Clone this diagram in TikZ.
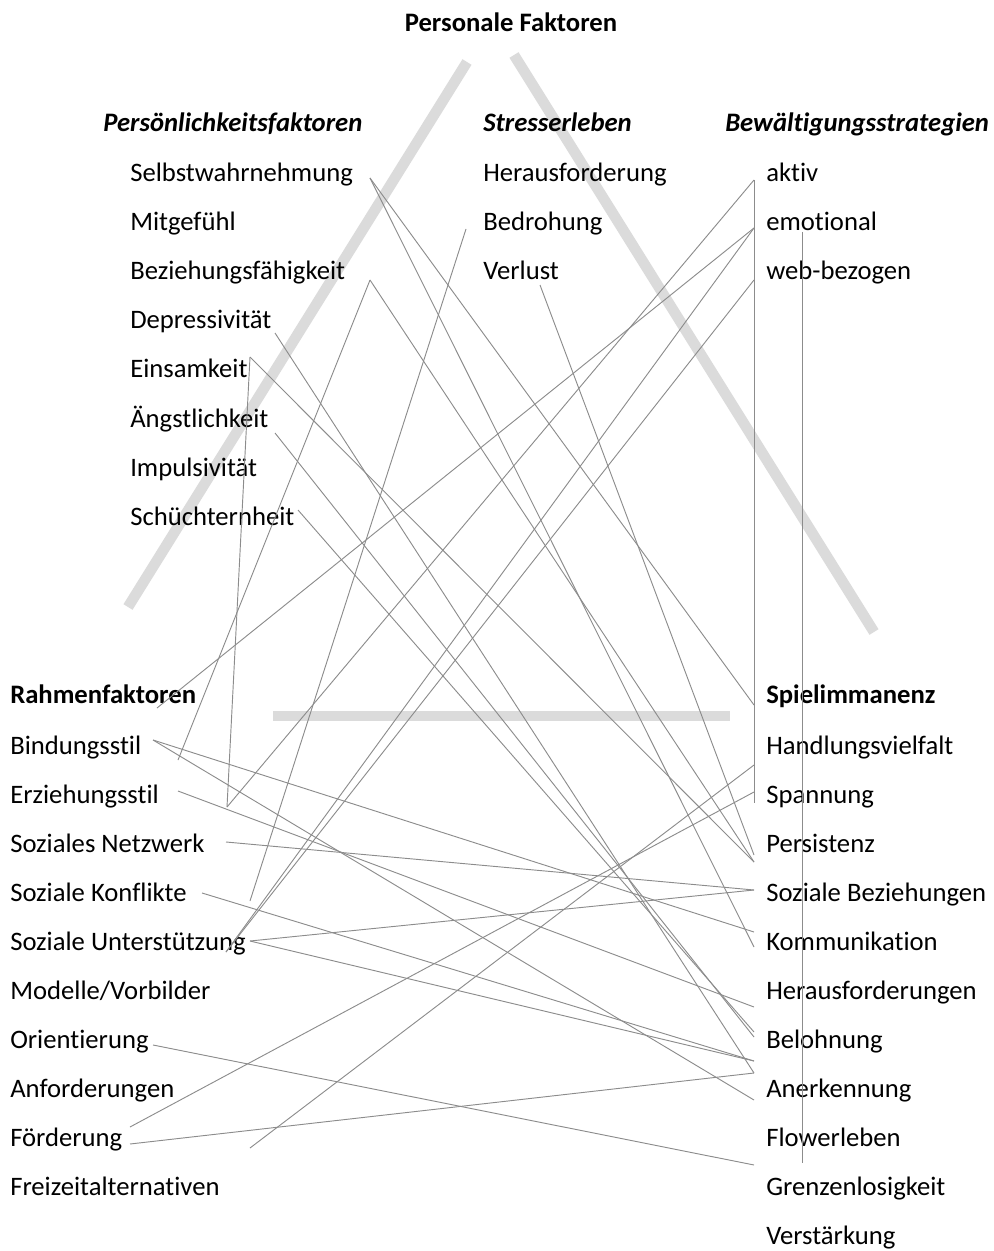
\documentclass[tikz,border=0pt]{standalone}
\usepackage{fontspec}
\setmainfont{Carlito}[Ligatures=NoCommon]

\tikzset{
  lbl/.style={anchor=base west, inner sep=0pt, font=\fontsize{20}{24}\selectfont},
  hd/.style={lbl, font=\fontsize{20}{24}\selectfont\bfseries},
  hdi/.style={lbl, font=\fontsize{20}{24}\selectfont\bfseries\itshape},
  bar/.style={line width=8pt, black!14},
  link/.style={black!45, line width=0.7pt},
}

\begin{document}
\begin{tikzpicture}[x=0.75pt,y=-0.75pt]
        \useasboundingbox (0,0) rectangle (993,1251);

        % grey frame
        \draw[bar] (467,62) -- (128,607);
        \draw[bar] (514,55) -- (874,632);
        \draw[bar] (273,716) -- (730,716);

        \node[hd, anchor=base] (title) at (511,32) {Personale Faktoren};
        \node[hdi] (pf) at (103,132) {Persönlichkeitsfaktoren};
        \node[hdi] (se) at (483,132) {Stresserleben};
        \node[hdi] (bs) at (725,132) {Bewältigungsstrategien};
        \node[hd]  (rf) at (10,703)  {Rahmenfaktoren};
        \node[hd]  (si) at (766,703) {Spielimmanenz};

        \foreach \t [count=\i] in {Selbstwahrnehmung,Mitgefühl,Beziehungsfähigkeit,
            Depressivität,Einsamkeit,Ängstlichkeit,Impulsivität,Schüchternheit}
          \node[lbl] (p\i) at (130,{182+49*(\i-1)}) {\t};
        \foreach \t [count=\i] in {Herausforderung,Bedrohung,Verlust}
          \node[lbl] (s\i) at (483,{182+49*(\i-1)}) {\t};
        \foreach \t [count=\i] in {aktiv,emotional,web-bezogen}
          \node[lbl] (b\i) at (766,{182+49*(\i-1)}) {\t};
        \foreach \t [count=\i] in {Bindungsstil,Erziehungsstil,Soziales Netzwerk,
            Soziale Konflikte,Soziale Unterstützung,Modelle/Vorbilder,Orientierung,
            Anforderungen,Förderung,Freizeitalternativen}
          \node[lbl] (r\i) at (10,{754+49*(\i-1)}) {\t};
        \foreach \t [count=\i] in {Handlungsvielfalt,Spannung,Persistenz,
            Soziale Beziehungen,Kommunikation,Herausforderungen,Belohnung,
            Anerkennung,Flowerleben,Grenzenlosigkeit,Verstärkung}
          \node[lbl] (g\i) at (766,{754+49*(\i-1)}) {\t};

        % line ends
        \coordinate (selbst)  at (370,178);
        \coordinate (bezieh)  at (370,280);
        \coordinate (depress) at (275,333);
        \coordinate (einsam)  at (250,357);
        \coordinate (angst)   at (275,433);
        \coordinate (schuecht) at (298,510);
        \coordinate (bedroh)  at (466,229);
        \coordinate (verlust) at (540,285);
        \coordinate (aktiv)   at (754,180);
        \coordinate (emo)     at (754,228);
        \coordinate (emov)    at (802,232);
        \coordinate (web)     at (754,280);
        \coordinate (rahmen)  at (157,708);
        \coordinate (bind)    at (153,740);
        \coordinate (bindb)   at (178,760);
        \coordinate (erz)     at (178,791);
        \coordinate (erzb)    at (227,807);
        \coordinate (netz)    at (226,842);
        \coordinate (konf)    at (202,893);
        \coordinate (konfb)   at (250,901);
        \coordinate (unt)     at (250,941);
        \coordinate (untb)    at (226,952);
        \coordinate (orient)  at (153,1045);
        \coordinate (foerd)   at (130,1127);
        \coordinate (foerdb)  at (130,1144);
        \coordinate (frei)    at (250,1148);
        \coordinate (spiel)   at (754,705);
        \coordinate (hand)    at (754,765);
        \coordinate (spann)   at (754,792);
        \coordinate (spannv)  at (754,803);
        \coordinate (persa)   at (754,855);
        \coordinate (persb)   at (754,862);
        \coordinate (sozb)    at (754,890);
        \coordinate (komm)    at (754,932);
        \coordinate (kommb)   at (754,947);
        \coordinate (heraus)  at (754,1007);
        \coordinate (bel)     at (754,1032);
        \coordinate (belb)    at (754,1037);
        \coordinate (belc)    at (754,1061);
        \coordinate (aner)    at (754,1073);
        \coordinate (anerb)   at (754,1100);
        \coordinate (grenz)   at (754,1165);
        \coordinate (grenzv)  at (802,1163);

        \foreach \a/\b in {selbst/spiel, selbst/kommb, bezieh/persb, bezieh/bindb,
            depress/aner, einsam/persb, einsam/erzb, angst/belb, schuecht/bel,
            bedroh/konfb, verlust/persa, aktiv/spannv, aktiv/erzb, emo/rahmen,
            emo/untb, web/untb, emov/grenzv, bind/komm, bind/anerb, erz/heraus,
            netz/sozb, konf/belc, unt/sozb, unt/belc, orient/grenz, foerdb/aner,
            foerd/spann, frei/hand}
          \draw[link] (\a) -- (\b);
      \end{tikzpicture}
\end{document}
